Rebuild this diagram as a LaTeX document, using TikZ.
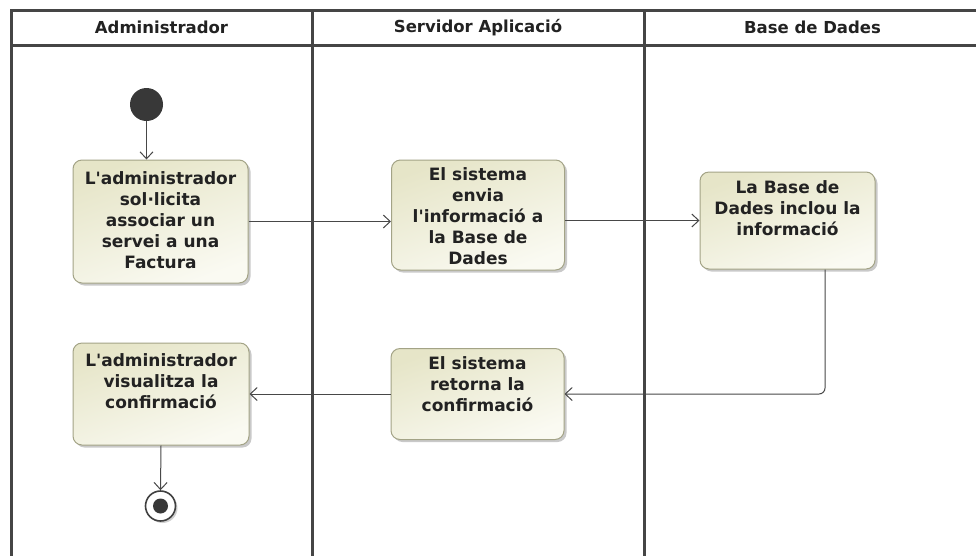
\documentclass[tikz,border=0pt]{standalone}
\usepackage{fontspec}
\setmainfont{DejaVu Sans}[Ligatures=TeXOff]
\usetikzlibrary{arrows.meta,shadows,calc}
\definecolor{lanecol}{HTML}{454545}
\definecolor{actborder}{HTML}{A3A386}
\definecolor{actA}{HTML}{E6E5C8}
\definecolor{actB}{HTML}{FAFAF2}
\definecolor{flowcol}{HTML}{484848}
\definecolor{txtcol}{HTML}{222222}
\begin{document}
\begin{tikzpicture}[x=1pt,y=-1pt,
  lane/.style={draw=lanecol, line width=3pt},
  act/.style={draw=actborder, line width=1pt, rounded corners=9pt,
    top color=actA, bottom color=actB, shading angle=20,
    drop shadow={shadow xshift=2.5pt, shadow yshift=-2.5pt, opacity=0.35, fill=black!60},
    inner sep=0pt},
  lbl/.style={font=\fontsize{17}{21}\selectfont\bfseries, text=txtcol, align=center, inner sep=0pt},
  hdr/.style={font=\fontsize{16.5}{20}\selectfont\bfseries, text=txtcol, inner sep=0pt},
  flow/.style={draw=flowcol, line width=1pt, -{Straight Barb[length=7pt,width=13pt,line width=1pt]}},
]
\useasboundingbox (0,0) rectangle (976,555);
\fill[white] (0,0) rectangle (976,555);

% swimlanes
\draw[lane] (11,556) -- (11,10) -- (977,10);
\draw[lane] (11,45) -- (977,45);
\draw[lane] (312,10) -- (312,556);
\draw[lane] (644,10) -- (644,556);
\node[hdr] (h1) at (161.5,27.5) {Administrador};
\node[hdr] (h2) at (478,27.5) {Servidor Aplicació};
\node[hdr] (h3) at (812.5,27.5) {Base de Dades};

% activities
\node[act, minimum width=175pt, minimum height=123pt] (b1) at (160.5,221.5) {};
\node[act, minimum width=173pt, minimum height=110pt] (b2) at (478,215) {};
\node[act, minimum width=175pt, minimum height=97pt] (b3) at (787.5,220.5) {};
\node[act, minimum width=173pt, minimum height=91pt] (b4) at (477.5,394) {};
\node[act, minimum width=176pt, minimum height=102pt] (b5) at (161,394) {};

\node[lbl] (t1) at (160.5,220) {L'administrador\\sol·licita\\associar un\\servei a una\\Factura};
\node[lbl] (t2) at (478,216.5) {El sistema\\envia\\l'informació a\\la Base de\\Dades};
\node[lbl] (t3) at (787.5,208.5) {La Base de\\Dades inclou la\\informació};
\node[lbl] (t4) at (477.5,384) {El sistema\\retorna la\\confirmació};
\node[lbl] (t5) at (161,381) {L'administrador\\visualitza la\\confirmació};

% initial and final nodes
\node[circle, fill=black!78, minimum size=33pt, inner sep=0pt] (start) at (146.5,104.5) {};
\node[circle, draw=black!75, line width=1.6pt, fill=white, minimum size=30pt, inner sep=0pt,
  drop shadow={shadow xshift=2pt, shadow yshift=-2pt, opacity=0.3, fill=black!60}] (end) at (160.5,506) {};
\node[circle, fill=black!78, minimum size=15pt, inner sep=0pt] (endin) at (end.center) {};

% flows
\draw[flow] (start) -- (start |- b1.north);
\draw[flow] (b1.east) -- (b1.east -| b2.west);
\draw[flow] (b3.west -| b2.east) -- (b3.west);
\coordinate (c3) at ($(b3.south)+(37.5,0)$);
\draw[flow, rounded corners=6pt] (c3) |- (b4.east);
\draw[flow] (b4.west) -- (b4.west -| b5.east);
\draw[flow] (b5.south) -- (end.north);
\end{tikzpicture}
\end{document}
